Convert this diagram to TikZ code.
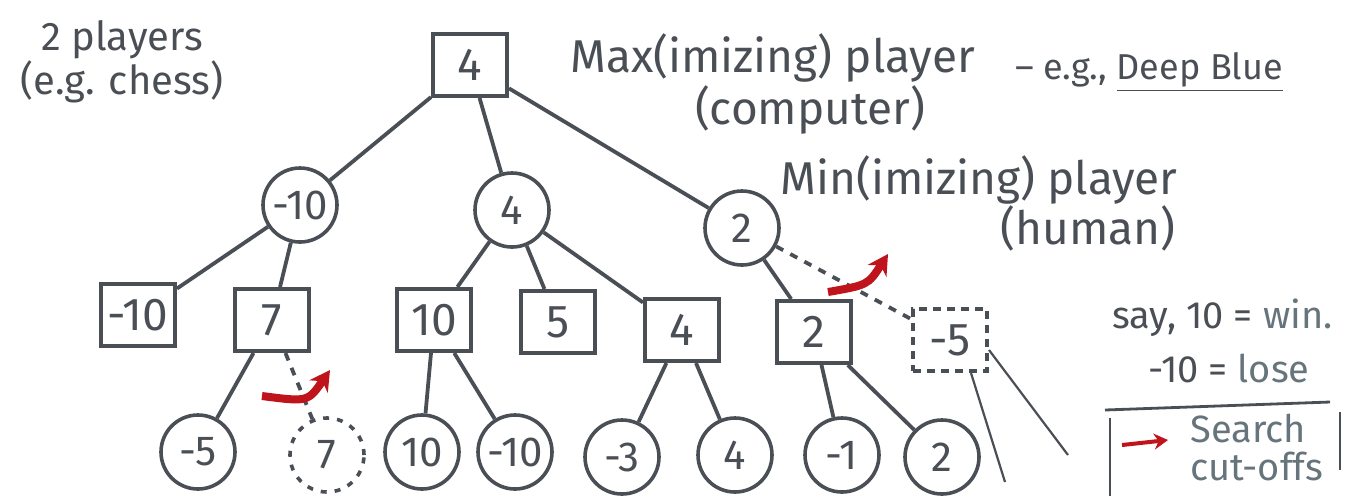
\documentclass[tikz,border=0pt]{standalone}
\usepackage{fontspec}
\setmainfont{Fira Sans}
\usetikzlibrary{arrows.meta}
\definecolor{ink}{HTML}{4A4E55}
\definecolor{slate}{HTML}{66747C}
\definecolor{redarrow}{HTML}{C0141C}
\tikzset{
  maxbox/.style={draw=ink, line width=2pt, minimum width=37pt, minimum height=31pt, inner sep=0pt, font=\fontsize{23}{25}\selectfont, text=ink},
  minball/.style={draw=ink, line width=1.8pt, circle, minimum size=37pt, inner sep=0pt, font=\fontsize{21}{23}\selectfont, text=ink},
  edge/.style={draw=ink, line width=1.9pt},
  cutedge/.style={draw=ink, line width=1.9pt, dash pattern=on 4pt off 4pt},
  cutarrow/.style={draw=redarrow, line width=4pt, -{Stealth[length=10pt,width=11pt]}},
  note/.style={text=ink, align=center, inner sep=0pt},
}
\begin{document}
\begin{tikzpicture}[x=0.5pt,y=-0.5pt]
\useasboundingbox (0,0) rectangle (1349,500);
% level 0
\node[maxbox] (r) at (470,65) {4};
% level 1
\node[minball] (a) at (300,205) {-10};
\node[minball] (b) at (512,210) {4};
\node[minball] (c) at (742,228) {2};
% level 2
\node[maxbox] (a1) at (138,315) {-10};
\node[maxbox] (a2) at (272,320) {7};
\node[maxbox] (b1) at (434,320) {10};
\node[maxbox] (b2) at (558,322) {5};
\node[maxbox] (b3) at (682,330) {4};
\node[maxbox] (c1) at (814,332) {2};
\node[maxbox, dash pattern=on 4pt off 3pt] (c2) at (950,340) {-5};
% level 3
\node[minball] (a21) at (198,452) {-5};
\node[minball, dash pattern=on 3pt off 4pt] (a22) at (327,455) {7};
\node[minball] (b11) at (422,452) {10};
\node[minball] (b12) at (515,452) {-10};
\node[minball] (b31) at (622,457) {-3};
\node[minball] (b32) at (735,455) {4};
\node[minball] (c11) at (842,455) {-1};
\node[minball] (c12) at (942,457) {2};
% free ends of the pruned branches
\coordinate (p1) at (1005,482);
\coordinate (p2) at (1068,455);
% edges
\draw[edge] (r) -- (a);
\draw[edge] (r) -- (b);
\draw[edge] (r) -- (c);
\draw[edge] (a) -- (a1);
\draw[edge] (a) -- (a2);
\draw[edge] (b) -- (b1);
\draw[edge] (b) -- (b2);
\draw[edge] (b) -- (b3);
\draw[edge] (c) -- (c1);
\draw[cutedge] (c) -- (c2);
\draw[edge] (a2) -- (a21);
\draw[cutedge] (a2) -- (a22);
\draw[edge] (b1) -- (b11);
\draw[edge] (b1) -- (b12);
\draw[edge] (b3) -- (b31);
\draw[edge] (b3) -- (b32);
\draw[edge] (c1) -- (c11);
\draw[edge] (c1) -- (c12);
\draw[draw=ink, line width=1.1pt] (c2.south east) ++(-18,0) -- (p1);
\draw[draw=ink, line width=1.1pt] (c2.east) ++(0,10) -- (p2);
% cut-off arrows
\coordinate (k1s) at (262,396);
\coordinate (k1e) at (330,370);
\coordinate (k2s) at (828,292);
\coordinate (k2e) at (888,254);
\draw[cutarrow] (k1s) .. controls (308,402) .. (k1e);
\draw[cutarrow] (k2s) .. controls (868,285) .. (k2e);
% texts
\node[note, font=\fontsize{20}{22}\selectfont] (t1) at (122,62) {2 players\\(e.g. chess)};
\node[note, font=\fontsize{23}{23}\selectfont, anchor=west] (t2) at (570,58) {Max(imizing) player};
\node[note, font=\fontsize{23}{23}\selectfont] (t3) at (810,110) {(computer)};
\node[note, font=\fontsize{18}{20}\selectfont, anchor=west] (t4) at (1015,72) {-- e.g., \underline{Deep Blue}};
\node[note, font=\fontsize{23}{23}\selectfont, anchor=west] (t5) at (780,180) {Min(imizing) player};
\node[note, font=\fontsize{23}{23}\selectfont] (t6) at (1088,228) {(human)};
\node[note, font=\fontsize{19}{20}\selectfont, anchor=west] (t7) at (1112,318) {say, 10 = \textcolor{slate}{win.}};
\node[note, font=\fontsize{19}{20}\selectfont, anchor=west] (t8) at (1148,368) {-10 = \textcolor{slate}{lose}};
% legend box
\coordinate (l1) at (1105,410);
\coordinate (l2) at (1330,402);
\coordinate (l3) at (1110,418);
\coordinate (l4) at (1110,496);
\coordinate (l5) at (1340,412);
\coordinate (l6) at (1340,470);
\draw[draw=ink, line width=1.4pt] (l1) -- (l2);
\draw[draw=ink, line width=1.4pt] (l3) -- (l4);
\draw[draw=ink, line width=1.4pt] (l5) -- (l6);
\coordinate (la) at (1122,445);
\coordinate (lb) at (1168,440);
\draw[draw=redarrow, line width=2pt, -{Stealth[length=7pt,width=8pt]}] (la) -- (lb);
\node[note, text=slate, font=\fontsize{19}{19}\selectfont, align=left, anchor=west] (t9) at (1190,448) {Search\\cut-offs};
\end{tikzpicture}
\end{document}
